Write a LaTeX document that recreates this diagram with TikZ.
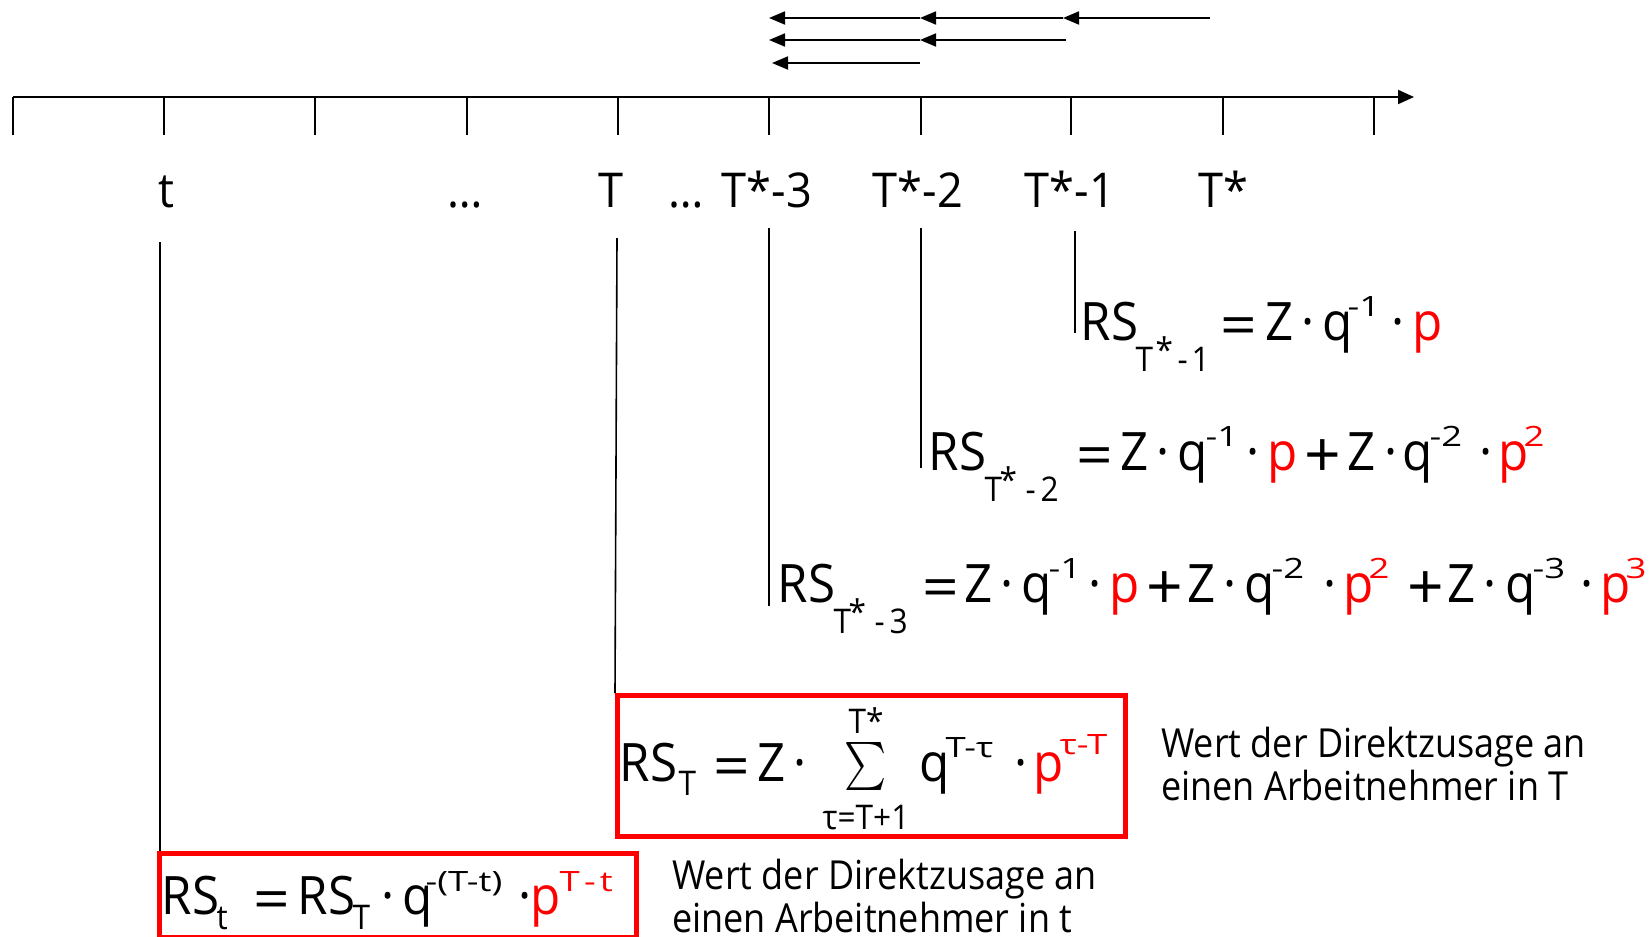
\documentclass[tikz,border=0pt]{standalone}
\usepackage{fontspec}
\usepackage{graphicx}
\setmainfont{Open Sans}[FakeStretch=0.9]
\newfontfamily\eqfamily{Open Sans}[FakeStretch=0.93]
\newfontfamily\labfamily{Open Sans}[FakeStretch=0.94]
\usetikzlibrary{arrows.meta}
\definecolor{pred}{RGB}{255,0,0}

% formula typesetting: every piece is placed at its own offset from the node origin
\newcommand\eqfont{\eqfamily\fontsize{53}{60}\selectfont}
\newcommand\scr{\eqfamily\fontsize{34}{38}\selectfont}
\newcommand\spr{\eqfamily\fontsize{28}{32}\selectfont}
\newcommand\at[2]{\rlap{\hspace{#1pt}#2}}
\newcommand\lo[2][31]{\raisebox{-#1pt}{\scr #2}}
\newcommand\hi[2][24]{\raisebox{#1pt}{\scalebox{1.4}[1]{\spr #2}}}
\newcommand\st{\raisebox{-22pt}{\scr *}}
\newcommand\eqg{\raisebox{-5pt}{\scalebox{1.3}[1.08]{=}}}
\newcommand\plg{\raisebox{-7pt}{\scalebox{1.3}[1.2]{+}}}
\newcommand\rd[1]{\textcolor{pred}{#1}}

\begin{document}
\begin{tikzpicture}[x=1pt,y=-1pt,
  axisline/.style={line width=2pt},
  tickline/.style={line width=1.6pt},
  arr/.style={line width=1.8pt,-{Triangle[length=16pt,width=13pt]}},
  vline/.style={line width=1.6pt},
  redbox/.style={draw=pred,line width=4.5pt},
  lab/.style={anchor=base,inner sep=0,font=\labfamily\fontsize{48}{56}\selectfont},
  eq/.style={anchor=base west,inner sep=0,font=\eqfont},
  lim/.style={anchor=base,inner sep=0,font=\scr},
  note/.style={anchor=base west,inner sep=0,align=left,font=\fontsize{40}{43}\selectfont}]
\useasboundingbox (0,0) rectangle (1652,937);

% time axis
\coordinate (ax0) at (13,97);
\coordinate (ax1) at (1414,97);
\draw[axisline,-{Triangle[length=16pt,width=14pt]}] (ax0) -- (ax1);
\foreach \i/\x in {0/13,1/164,2/315,3/467,4/618,5/769,6/921,7/1071,8/1223,9/1374}{
  \coordinate (tk\i) at (\x,97);
  \draw[tickline] (tk\i) -- ++(0,38);
}

% axis labels
\node[lab] (lt)  at (166,207) {t};
\node[lab] (ld1) at (465,207) {…};
\node[lab] (lT)  at (611,207) {T};
\node[lab] (ld2) at (686,207) {…};
\node[lab] (l3)  at (767,207) {T*-3};
\node[lab] (l2)  at (918,207) {T*-2};
\node[lab] (l1)  at (1070,207) {T*-1};
\node[lab] (l0)  at (1223,207) {T*};

% discounting arrows
\coordinate (r1a) at (1210,18);
\coordinate (r1b) at (1063,18);
\coordinate (r1c) at (920,18);
\coordinate (r1d) at (769,18);
\coordinate (r2a) at (1066,40);
\coordinate (r2b) at (920,40);
\coordinate (r2c) at (769,40);
\coordinate (r3a) at (920,63);
\coordinate (r3b) at (772,63);
\draw[arr] (r1a) -- (r1b);
\draw[arr] (r1b) -- (r1c);
\draw[arr] (r1c) -- (r1d);
\draw[arr] (r2a) -- (r2b);
\draw[arr] (r2b) -- (r2c);
\draw[arr] (r3a) -- (r3b);

% RS at T*-1
\node[eq] (e1) at (1080,340) {\at{0}{RS}\at{55}{\lo{T}}\at{75}{\st}\at{97}{\lo{-}}\at{111}{\lo{1}}%
  \at{140}{\eqg}\at{185}{Z}\at{221}{·}\at{242}{q}\at{267}{\hi{-1}}\at{311}{·}\at{332}{\rd{p}}};

% RS at T*-2
\node[eq] (e2) at (928,470) {\at{0}{RS}\at{56}{\lo{T}}\at{71}{\st}\at{97}{\lo{-}}\at{112}{\lo{2}}%
  \at{148}{\eqg}\at{192}{Z}\at{228}{·}\at{249}{q}\at{277}{\hi{-1}}\at{318}{·}\at{339}{\rd{p}}%
  \at{376}{\plg}\at{419}{Z}\at{456}{·}\at{474}{q}\at{501}{\hi{-2}}\at{551}{·}\at{570}{\rd{p}}\at{595}{\rd{\hi{2}}}};

% RS at T*-3
\node[eq] (e3) at (777,602) {\at{0}{RS}\at{56}{\lo{T}}\at{71}{\st}\at{97}{\lo{-}}\at{112}{\lo{3}}%
  \at{145}{\eqg}\at{187}{Z}\at{223}{·}\at{244}{q}\at{271}{\hi{-1}}\at{311}{·}\at{332}{\rd{p}}%
  \at{369}{\plg}\at{410}{Z}\at{446}{·}\at{467}{q}\at{494}{\hi{-2}}\at{546}{·}\at{566}{\rd{p}}\at{591}{\rd{\hi{2}}}%
  \at{630}{\plg}\at{670}{Z}\at{706}{·}\at{728}{q}\at{755}{\hi{-3}}\at{803}{·}\at{823}{\rd{p}}\at{848}{\rd{\hi{3}}}};

% boxed result at T
\node[redbox,minimum width=508pt,minimum height=141pt,anchor=north west] (b1) at (615,693) {};
\node[eq] (e4) at (619,781) {\at{0}{RS}\at{59}{\lo[14]{T}}\at{94}{\eqg}\at{138}{Z}\at{174}{·}%
  \at{300}{q}\at{326}{\hi{T-τ}}\at{395}{·}\at{414}{\rd{p}}\at{440}{\rd{\hi[27]{τ-T}}}};
\node[eq,anchor=base] (sum) at (866,781) {\fontsize{10}{12}\selectfont\raisebox{3pt}{\scalebox{4.0}[4.8]{$\sum$}}};
\node[lim] (sumup) at (866,733) {T*};
\node[lim] (sumlo) at (866,829) {τ=T+1};

% boxed result at t
\node[redbox,minimum width=477pt,minimum height=84pt,anchor=north west] (b2) at (157,851) {};
\node[eq] (e5) at (161,914) {\at{0}{RS}\at{55}{\lo[15]{t}}\at{92}{\eqg}\at{136}{RS}\at{191}{\lo[15]{T}}\at{220}{·}%
  \at{241}{q}\at{264}{\hi[23]{-(T-t)}}%
  \at{357}{·}\at{369}{\rd{p}}\at{398}{\rd{\hi[23]{T\hspace{3pt}-\hspace{3pt}t}}}};

\node[note] (n1) at (1161,800) {Wert der Direktzusage an\\einen Arbeitnehmer in T};
\node[note] (n2) at (672,932) {Wert der Direktzusage an\\einen Arbeitnehmer in t};

% drop lines from the axis labels
\draw[vline] (160,242) -- (160,851);
\draw[vline] (617,238) -- (b1.north west);
\draw[vline] (769,228) -- (769,606);
\draw[vline] (921,228) -- (921,468);
\draw[vline] (1075,231) -- (1075,333);
\end{tikzpicture}
\end{document}
